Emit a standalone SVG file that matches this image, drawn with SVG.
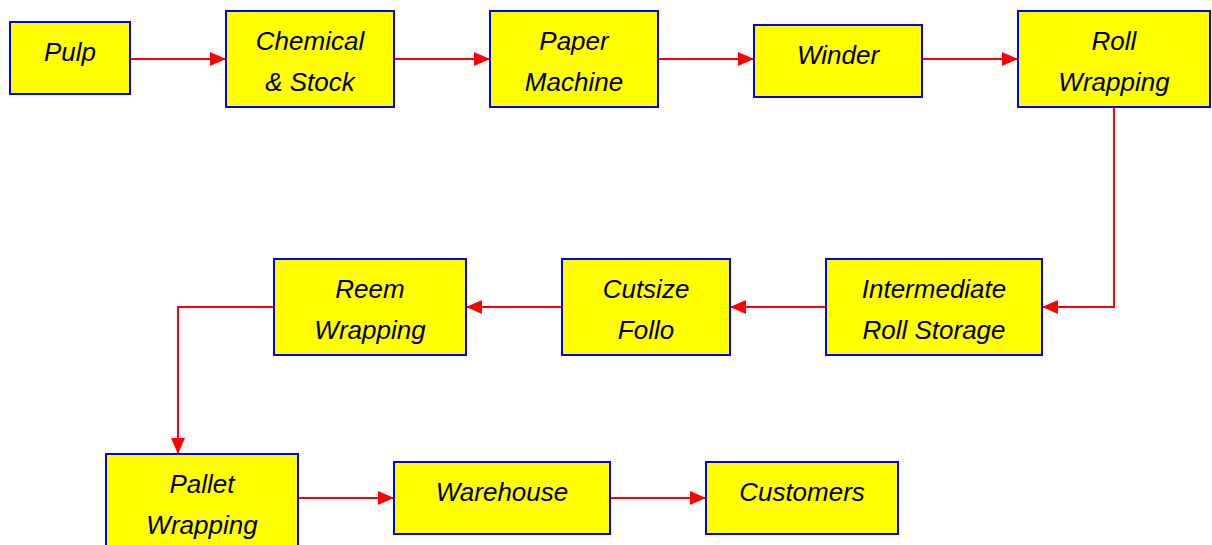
<svg xmlns="http://www.w3.org/2000/svg" width="1212" height="545" viewBox="0 0 1212 545">
<style>
.box{fill:#ffff00;stroke:#0000ff;stroke-width:2}
.t{font-family:"Liberation Sans",Arial,sans-serif;font-style:italic;font-size:26px;fill:#000;text-anchor:middle}
.c{fill:none;stroke:#ff0000;stroke-width:2;marker-end:url(#ah)}
</style>
<defs>
<marker id="ah" viewBox="0 0 16 14" refX="16" refY="7" markerWidth="16" markerHeight="14" markerUnits="userSpaceOnUse" orient="auto">
<path d="M0,0 L16,7 L0,14 Z" fill="#ff0000"/>
</marker>
</defs>
<rect width="1212" height="545" fill="#fff"/>
<g id="connectors">
<path class="c" d="M130,59 H226"/>
<path class="c" d="M394,59 H490"/>
<path class="c" d="M658,59 H754"/>
<path class="c" d="M922,59 H1018"/>
<path class="c" d="M1114,107 V307 H1042"/>
<path class="c" d="M826,307 H730"/>
<path class="c" d="M562,307 H466"/>
<path class="c" d="M274,307 H178 V454"/>
<path class="c" d="M298,498 H394"/>
<path class="c" d="M610,498 H706"/>
</g>
<g id="pulp"><rect class="box" x="10" y="22" width="120" height="72"/><text class="t" x="70" y="61">Pulp</text></g>
<g id="chemical"><rect class="box" x="226" y="11" width="168" height="96"/><text class="t" x="310" y="50">Chemical</text><text class="t" x="310" y="91">&amp; Stock</text></g>
<g id="paper"><rect class="box" x="490" y="11" width="168" height="96"/><text class="t" x="574" y="50">Paper</text><text class="t" x="574" y="91">Machine</text></g>
<g id="winder"><rect class="box" x="754" y="25" width="168" height="72"/><text class="t" x="838" y="64">Winder</text></g>
<g id="rollwrap"><rect class="box" x="1018" y="11" width="192" height="96"/><text class="t" x="1114" y="50">Roll</text><text class="t" x="1114" y="91">Wrapping</text></g>
<g id="intermediate"><rect class="box" x="826" y="259" width="216" height="96"/><text class="t" x="934" y="298">Intermediate</text><text class="t" x="934" y="339">Roll Storage</text></g>
<g id="cutsize"><rect class="box" x="562" y="259" width="168" height="96"/><text class="t" x="646" y="298">Cutsize</text><text class="t" x="646" y="339">Follo</text></g>
<g id="reem"><rect class="box" x="274" y="259" width="192" height="96"/><text class="t" x="370" y="298">Reem</text><text class="t" x="370" y="339">Wrapping</text></g>
<g id="pallet"><rect class="box" x="106" y="454" width="192" height="96"/><text class="t" x="202" y="493">Pallet</text><text class="t" x="202" y="534">Wrapping</text></g>
<g id="warehouse"><rect class="box" x="394" y="462" width="216" height="72"/><text class="t" x="502" y="501">Warehouse</text></g>
<g id="customers"><rect class="box" x="706" y="462" width="192" height="72"/><text class="t" x="802" y="501">Customers</text></g>
</svg>
